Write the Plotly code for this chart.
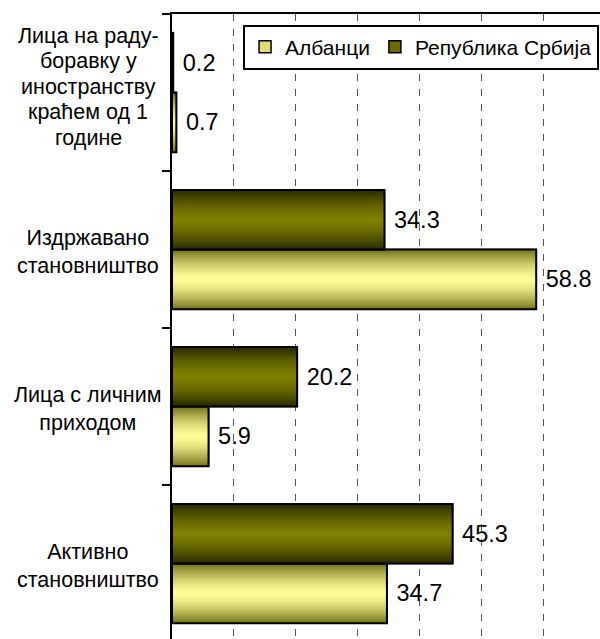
import plotly.graph_objects as go

categories = ["Активно становништво", "Лица с личним приходом",
              "Издржавано становништво", "Лица на раду-боравку у иностранству краћем од 1 године"]
category_labels = [["Активно<br>становништво"], ["Лица с личним<br>приходом"],
                   ["Издржавано<br>становништво"],
                   ["Лица на раду-", "боравку у", "иностранству", "краћем од 1", "године"]]
series_names = ["Албанци", "Република Србија"]
albanci = [34.7, 5.9, 58.8, 0.7]
srbija = [45.3, 20.2, 34.3, 0.2]

FONT = "Liberation Sans, Arial, sans-serif"
W = 0.38          # bar thickness (category units)
N = 16            # gradient layers

styles = [
    dict(values=albanci, offset=-W, edge=(0x78, 0x78, 0x20), center=(0xFF, 0xFF, 0x99), p=1.5),
    dict(values=srbija, offset=0.0, edge=(0x2c, 0x2c, 0x00), center=(0x80, 0x80, 0x00), p=1.5),
]

def mix(a, b, t):
    return "rgb(%d,%d,%d)" % tuple(round(a[i] + (b[i] - a[i]) * t) for i in range(3))

fig = go.Figure()
for name, st in zip(series_names, styles):
    vals = st["values"]
    fig.add_trace(go.Bar(
        y=categories, x=vals, orientation="h", name=name,
        offset=st["offset"], width=W,
        marker=dict(color=mix(st["center"], st["edge"], 0.25), line=dict(color="black", width=1.5)),
        hoverinfo="skip", showlegend=True))
    c = st["offset"] + W / 2
    for k in range(N):
        t = 1 - k / N
        h = (W / 2) * t
        col = mix(st["center"], st["edge"], t ** st["p"])
        fig.add_trace(go.Bar(
            y=categories, x=vals, orientation="h",
            offset=c - h, width=2 * h,
            marker=dict(color=col, line=dict(width=0)),
            hoverinfo="skip", showlegend=False))
    fig.add_trace(go.Bar(
        y=categories, x=vals, orientation="h",
        offset=st["offset"], width=W,
        marker=dict(color="rgba(0,0,0,0)", line=dict(color="black", width=2)),
        text=vals, texttemplate=" %{x:.1f}", textposition="outside",
        constraintext="none", cliponaxis=False,
        textfont=dict(family=FONT, size=23.5, color="black"),
        hoverinfo="skip", showlegend=False))

for cat, lines in zip(categories, category_labels):
    n = len(lines)
    if n == 1:
        shifts = [-2]
    else:
        shifts = [6 + 25.5 * ((n - 1) / 2 - i) for i in range(n)]
    for line, ys in zip(lines, shifts):
        fig.add_annotation(x=-0.196, xref="paper", y=cat, yref="y", text=line,
                           showarrow=False, xanchor="center", yanchor="middle", align="center",
                           yshift=ys, font=dict(family=FONT, size=21.5, color="black"))

fig.update_layout(
    width=600, height=639, barmode="overlay",
    margin=dict(l=172, r=0, t=14, b=0),
    paper_bgcolor="white", plot_bgcolor="white",
    font=dict(family=FONT, size=21, color="black"),
    legend=dict(orientation="h", x=0.166, y=0.983, xanchor="left", yanchor="top",
                bgcolor="white", bordercolor="black", borderwidth=2,
                font=dict(family=FONT, size=21, color="black"), traceorder="normal"),
    xaxis=dict(range=[0, 69.1], side="top", showline=True, linecolor="black", linewidth=2,
               showticklabels=False, ticks="", dtick=10, tick0=0, zeroline=False,
               showgrid=True, gridcolor="#555555", gridwidth=1, griddash="7px,8px"),
    yaxis=dict(type="category", categoryorder="array", categoryarray=categories,
               range=[-0.48, 3.5], showline=True, linecolor="black", linewidth=2,
               ticks="outside", ticklen=8, tickwidth=2, tickcolor="black",
               tickson="boundaries", showticklabels=False, showgrid=False, zeroline=False),
)

fig.write_html("out.html", config={"displayModeBar": False},
               post_script="document.body.style.margin='0';document.body.style.overflow='hidden';")
